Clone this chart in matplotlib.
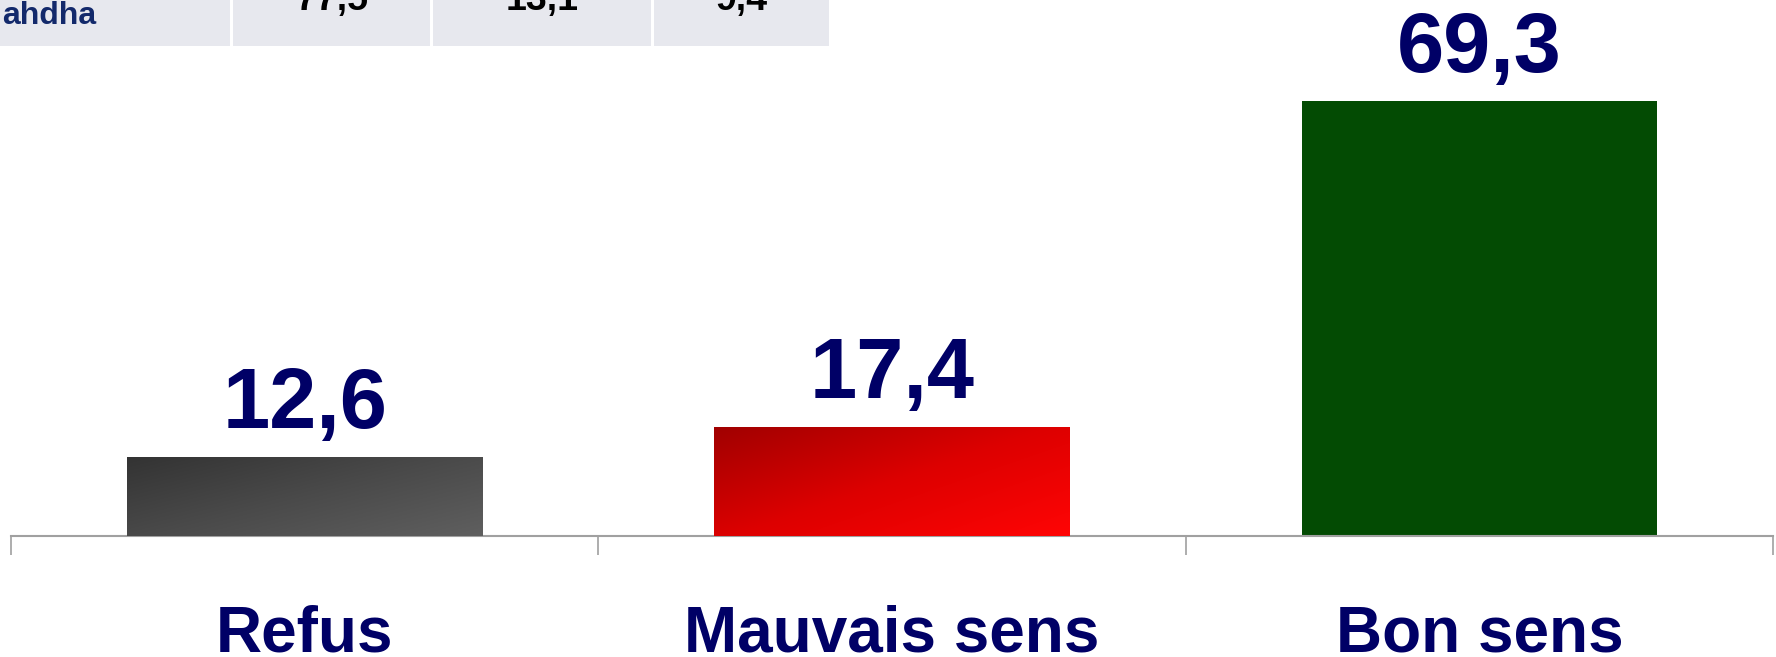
import matplotlib
matplotlib.use("Agg")
import matplotlib.pyplot as plt
import numpy as np
from matplotlib.patches import Rectangle
from matplotlib.colors import LinearSegmentedColormap

categories = ["Refus", "Mauvais sens", "Bon sens"]
values = [12.6, 17.4, 69.3]
value_labels = ["12,6", "17,4", "69,3"]

table_row_label = "ahdha"
table_values = ["77,5", "13,1", "9,4"]

W, H = 1776, 657
plt.rcParams['font.family'] = ['Liberation Sans', 'DejaVu Sans']
fig = plt.figure(figsize=(W / 100, H / 100), dpi=100)
fig.patch.set_facecolor("white")

axis_y = 536
ax = fig.add_axes([11 / W, (H - axis_y) / H, (1773 - 11) / W, axis_y / H])
ax.patch.set_alpha(0)

navy = "#000066"
bar_w = 0.605
x = np.arange(len(categories))

gradients = [
    ("#333333", "#4A4A4A", "#5F5F5F"),
    ("#A00000", "#DD0000", "#FF0505"),
    None,
]
solid = ["#444444", "#E00000", "#034B03"]

bars = ax.bar(x, values, width=bar_w, color=solid, edgecolor="none", zorder=2)

for b, g in zip(bars, gradients):
    if g is None:
        continue
    cmap = LinearSegmentedColormap.from_list("g", list(g))
    n = 200
    u = np.linspace(0, 1, n)
    U, V = np.meshgrid(u, u)
    Z = (U * 1.0 + V * 0.9) / 1.9
    x0, y0 = b.get_x(), b.get_y()
    w, h = b.get_width(), b.get_height()
    im = ax.imshow(Z, cmap=cmap, extent=[x0, x0 + w, y0, y0 + h],
                   aspect="auto", zorder=3, interpolation="bilinear",
                   origin="upper")
    im.set_clip_path(b)
ax.set_xlim(-0.5, 2.5)
ax.set_ylim(0, axis_y / 6.27)

for xi, v, lab in zip(x, values, value_labels):
    ax.annotate(lab, (xi, v), xytext=(0, 29 * 0.72), textcoords="offset points",
                ha="center", va="baseline", fontsize=61, fontweight="bold",
                color=navy, zorder=5)
    ax.annotate(categories[xi], (xi, 0), xytext=(0, -116 * 0.72),
                textcoords="offset points", ha="center", va="baseline",
                fontsize=46, fontweight="bold", color=navy,
                annotation_clip=False)

for s in ["top", "left", "right"]:
    ax.spines[s].set_visible(False)
ax.spines["bottom"].set_color("#A0A0A0")
ax.spines["bottom"].set_linewidth(1.5)
ax.set_yticks([])
ax.set_xticks([-0.5, 0.5, 1.5, 2.5])
ax.set_xticklabels([])
ax.tick_params(axis="x", length=19 * 0.72, width=1.2, color="#A0A0A0",
               direction="out")

# Partial table at the top
cells = [(0, 230), (233, 430), (433, 651), (654, 829)]
for (cx0, cx1) in cells:
    fig.add_artist(Rectangle((cx0 / W, 1 - 46 / H), (cx1 - cx0) / W, 46 / H,
                             transform=fig.transFigure, facecolor="#E7E8EE",
                             edgecolor="none", zorder=0))
fig.text(96 / W, 1 - 24 / H, table_row_label, ha="right", va="baseline",
         fontsize=23, fontweight="bold", color="#13296B")
for (cx0, cx1), tv in zip(cells[1:], table_values):
    fig.text((cx0 + cx1) / 2 / W, 1 - 10 / H, tv, ha="center", va="baseline",
             fontsize=27, fontweight="bold", color="black")

fig.savefig("out.png", dpi=100, facecolor="white")
